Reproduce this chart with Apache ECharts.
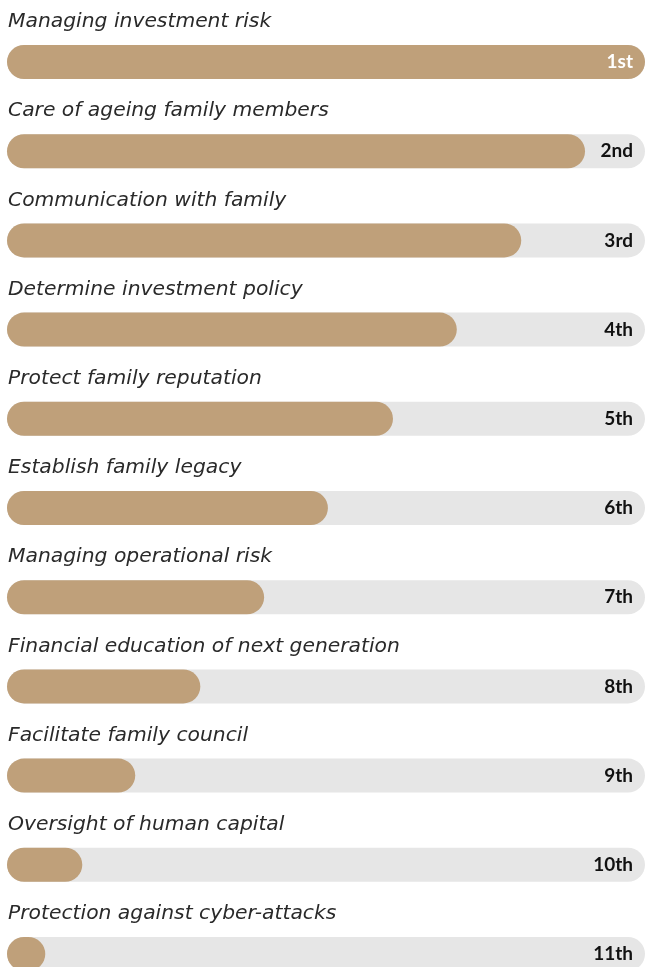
<!DOCTYPE html>
<html><head><meta charset="utf-8">
<script src="https://cdn.jsdelivr.net/npm/echarts@6/dist/echarts.min.js"></script>
<style>html,body{margin:0;padding:0;background:#fff;overflow:hidden}#c{width:645px;height:1000px}</style>
</head><body><div id="c"></div>
<script>
const categories = ["Managing investment risk","Care of ageing family members","Communication with family","Determine investment policy","Protect family reputation","Establish family legacy","Managing operational risk","Financial education of next generation","Facilitate family council","Oversight of human capital","Protection against cyber-attacks"];
const values = [100, 90.6, 80.6, 70.5, 60.5, 50.3, 40.3, 30.3, 20.1, 11.8, 6];
const ranks = ["1st","2nd","3rd","4th","5th","6th","7th","8th","9th","10th","11th"];
const maxValue = 100;

const chart = echarts.init(document.getElementById('c'), null, {renderer:'canvas'});
chart.setOption({
  animation:false,
  grid:{left:7, right:0, top:17.4, height:981.2, containLabel:false},
  xAxis:{type:'value', min:0, max:maxValue, show:false},
  yAxis:{type:'category', data:categories, inverse:true, show:false},
  series:[
    {type:'bar', barWidth:34, barGap:'-100%', silent:true,
     data:categories.map(()=>maxValue),
     itemStyle:{color:'#e6e6e6', borderRadius:17},
     label:{show:true, position:[1,-23], verticalAlign:'middle', align:'left',
       formatter:p=>categories[p.dataIndex], fontFamily:'DejaVu Sans', fontStyle:'italic', fontWeight:200, fontSize:20.3, color:'#2a2a2a'}},
    {type:'bar', barWidth:34, barGap:'-100%', silent:true,
     data:values,
     itemStyle:{color:'#bfa07a', borderRadius:17}},
    {type:'bar', barWidth:34, barGap:'-100%', silent:true,
     data:ranks.map((r,i)=>({value:maxValue, label:{color:i===0?'#ffffff':'#111111'}})),
     itemStyle:{color:'rgba(0,0,0,0)'},
     label:{show:true, position:'insideRight', distance:12, formatter:p=>ranks[p.dataIndex], fontFamily:'Lato', fontWeight:'bold', fontSize:19}}
  ]
});
</script></body></html>
